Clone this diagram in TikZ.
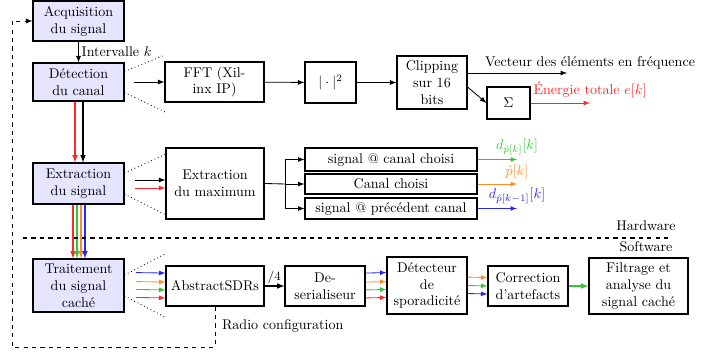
\documentclass[tikz,border=0pt]{standalone}
\usepackage{fontspec}
\usepackage{amssymb}
\usetikzlibrary{positioning,calc,arrows}

\definecolor{sigred}{RGB}{255,40,40}
\definecolor{siggreen}{RGB}{50,200,50}
\definecolor{sigorange}{RGB}{255,140,40}
\definecolor{sigblue}{RGB}{40,40,235}

\begin{document}
\begin{tikzpicture}[x=0.25mm,y=-0.25mm,>=latex,semithick,
                    block node/.style={draw,thick,align=center,inner sep=2pt},
                    main node/.style={block node,fill=blue!10},
                    zoom line/.style={dotted,semithick},
                    out label/.style={above,inner sep=0.5pt,yshift=2.5pt}
                   ]
  \useasboundingbox (0,0) rectangle (724,353);

  % left column
  \node[main node,minimum width=64.7pt,minimum height=28.4pt] (acq) at (78.5,21) {Acquisition\\du signal};
  \node[main node,minimum width=64.7pt,minimum height=27pt] (det) at (78.5,82) {D\'etection\\du canal};
  \node[main node,minimum width=64.7pt,minimum height=29.2pt] (ext) at (78.5,183.5) {Extraction\\du signal};
  \node[main node,minimum width=64.7pt,minimum height=37.7pt] (trait) at (78.5,285.5) {Traitement\\du signal\\cach\'e};

  % detection chain
  \node[block node,minimum width=70.4pt,minimum height=28.4pt] (fft) at (214.5,82) {FFT (Xil-\\inx IP)};
  \node[block node,minimum width=36.3pt,minimum height=29.2pt] (mod) at (330.5,82.5) {$|\cdot|^2$};
  \node[block node,minimum width=49.8pt,minimum height=37.7pt] (clip) at (432,82.5) {Clipping\\sur 16\\bits};
  \node[block node,minimum width=30.6pt,minimum height=22.8pt] (sigma) at (508.5,103) {$\Sigma$};

  % extraction chain
  \node[block node,minimum width=69.7pt,minimum height=50.5pt] (extmax) at (215,183.5) {Extraction\\du maximum};
  \node[block node,minimum width=122.3pt,minimum height=16.4pt,inner sep=0pt] (sig1) at (391,159.5) {signal @ canal choisi};
  \node[block node,minimum width=122.3pt,minimum height=14.2pt,inner sep=0pt] (canal) at (391,184) {Canal choisi};
  \node[block node,minimum width=122.3pt,minimum height=14.9pt,inner sep=0pt] (sig2) at (391,208.5) {signal @ pr\'ec\'edent canal};

  % software chain
  \node[block node,minimum width=69.7pt,minimum height=28.4pt] (abs) at (215,286) {AbstractSDRs};
  \node[block node,minimum width=56.9pt,minimum height=28.4pt] (deser) at (325,286) {De-\\serialiseur};
  \node[block node,minimum width=56.9pt,minimum height=40.5pt] (detect) at (427,285.5) {D\'etecteur\\de\\sporadicit\'e};
  \node[block node,minimum width=56.9pt,minimum height=28.4pt] (corr) at (528,286) {Correction\\d'artefacts};
  \node[block node,minimum width=70.4pt,minimum height=39.8pt] (filt) at (638.5,286) {Filtrage et\\analyse du\\signal cach\'e};

  \coordinate (z1) at (165,55);
  \coordinate (z2) at (165,112);
  \coordinate (z3) at (166,154);
  \coordinate (z4) at (166,215);
  \coordinate (z5) at (165,254);
  \coordinate (z6) at (165,317);
  \coordinate (split) at (285,184);
  \coordinate (vec) at (567,73);
  \coordinate (en) at (590,103);
  \coordinate (o1) at (517,159.5);
  \coordinate (o2) at (517,184);
  \coordinate (o3) at (517,208.5);
  \coordinate (fb) at (12,347);
  \coordinate (hw1) at (23,238);
  \coordinate (hw2) at (668,238);

  % zoom lines
  \draw[zoom line] ([yshift=7.5pt]det.east) -- (z1);
  \draw[zoom line] ([yshift=-7.5pt]det.east) -- (z2);
  \draw[zoom line] ([yshift=7.5pt]ext.east) -- (z3);
  \draw[zoom line] ([yshift=-7.5pt]ext.east) -- (z4);
  \draw[zoom line] ([yshift=7.5pt]trait.east) -- (z5);
  \draw[zoom line] ([yshift=-7.5pt]trait.east) -- (z6);

  % hardware part
  \draw[->] (acq) -- node[right,inner sep=2pt] {Intervalle $k$} (det);
  \draw[->,thick] ([xshift=3.2pt]det.south) -- ([xshift=3.2pt]ext.north);
  \draw[->,thick,sigred] ([xshift=-2.5pt]det.south) -- ([xshift=-2.5pt]ext.north);
  \foreach \c/\dx in {sigred/-3.9,siggreen/-1.1,sigorange/1.8,sigblue/4.6}
    \draw[->,thick,\c] ([xshift=\dx pt]ext.south) -- ([xshift=\dx pt]trait.north);

  \draw[->] ([xshift=7pt]det.east) -- (fft.west);
  \path[->]%
      (fft) edge (mod)
      (mod) edge (clip);
  \draw[->] (clip.east |- vec) -- (vec);
  \node[anchor=west] (vlabel) at (480,63) {Vecteur des \'el\'ements en fr\'equence};
  \draw[->] ([yshift=-3.2pt]clip.east) -- (sigma.west);
  \draw[->,sigred] (sigma) -- (en) node[out label] {\'Energie totale $e[k]$};

  \draw[->] ([xshift=7.5pt,yshift=2.5pt]ext.east) -- ([yshift=2.5pt]extmax.west);
  \draw[->,sigred] ([xshift=7.5pt,yshift=-3.2pt]ext.east) -- ([yshift=-3.2pt]extmax.west);
  \draw (extmax.east) -- (split);
  \foreach \n in {sig1,canal,sig2}
    \draw[->] (split) |- (\n.west);
  \draw[->,siggreen] (sig1) -- (o1) node[out label] {$d_{\hat{p}[k]}[k]$};
  \draw[->,sigorange] (canal) -- (o2) node[out label] {$\hat{p}[k]$};
  \draw[->,sigblue] (sig2) -- (o3) node[out label] {$d_{\hat{p}[k-1]}[k]$};

  % hardware / software border
  \draw[dashed,thick] (hw1) -- (hw2);
  \node (hw) at (646,226) {Hardware};
  \node (sw) at (646,247) {Software};

  % software part
  \foreach \c/\dy in {sigblue/9.2,sigorange/2.8,siggreen/-2.8,sigred/-8.5}{
    \draw[->,\c] ([xshift=8pt,yshift=\dy pt]trait.east) -- ([yshift=\dy pt]abs.west);
    \draw[->,\c] ([yshift=\dy pt]deser.east) -- ([yshift=\dy pt]detect.west);
  }
  \draw[->,thick] (abs) -- node[above,inner sep=1pt,font=\small] {$/4$} (deser);
  \foreach \c/\dy in {sigorange/6,siggreen/0,sigblue/-5.7}
    \draw[->,\c] ([yshift=\dy pt]detect.east) -- ([yshift=\dy pt]corr.west);
  \draw[->,thick,siggreen] (corr) -- (filt);

  % feedback
  \draw[dashed,->] (abs.south) |- (fb) |- (acq.west);
  \node[anchor=west] (radio) at (217,326) {Radio configuration};
\end{tikzpicture}
\end{document}
